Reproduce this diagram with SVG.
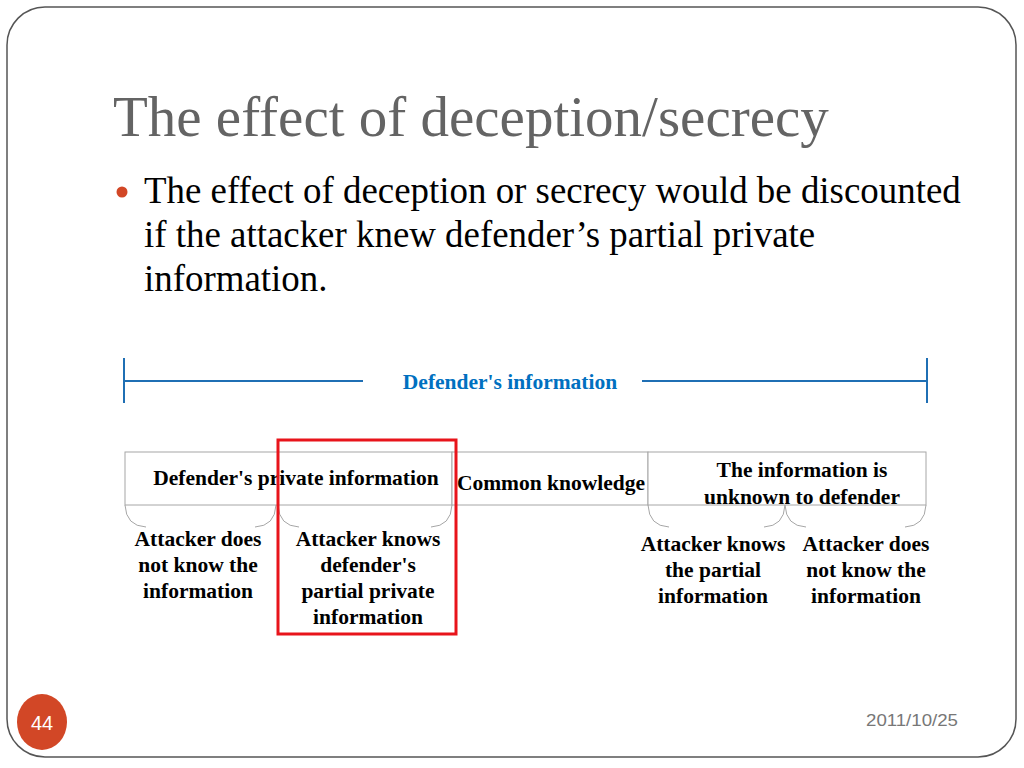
<svg xmlns="http://www.w3.org/2000/svg" width="1024" height="768" viewBox="0 0 1024 768">
<style>
.frame{fill:#fff;stroke:#555;stroke-width:1.5}
.title{font-family:"Liberation Serif",serif;font-size:57px;fill:#646464}
.body{font-family:"Liberation Serif",serif;font-size:36.9px;fill:#000}
.lbl{font-family:"Liberation Serif",serif;font-size:21.5px;font-weight:bold;fill:#000;text-anchor:middle}
.blue{fill:#0070c0}
.bl{stroke:#1f6fb4;stroke-width:2;fill:none}
.box{fill:#fff;stroke:#a6a6a6;stroke-width:1}
.brace{fill:none;stroke:#a6a6a6;stroke-width:1}
</style>
<rect width="1024" height="768" fill="#fff"/>
<rect class="frame" x="7" y="7" width="1009" height="750" rx="38" ry="38"/>
<text class="title" x="113" y="136">The effect of deception/secrecy</text>
<circle cx="122" cy="192" r="5.5" fill="#d24726"/>
<text class="body" x="144" y="203">The effect of deception or secrecy would be discounted</text>
<text class="body" x="144" y="247">if the attacker knew defender’s partial private</text>
<text class="body" x="144" y="291">information.</text>

<g id="defenders-information">
<path class="bl" d="M124,358 V403 M124,381 H363 M642,381 H927 M927,358 V403"/>
<text class="lbl blue" x="510" y="389">Defender's information</text>
</g>

<g id="connectors">
<path class="brace" d="M125,505 Q126,526 146,527 M276,505 Q275,526 255,527"/>
<path class="brace" d="M278,505 Q279,526 299,527 M452,505 Q451,526 431,527"/>
<path class="brace" d="M648,505 Q649,526 669,527 M785,505 Q784,526 764,527"/>
<path class="brace" d="M785,505 Q786,526 806,527 M926,505 Q925,526 905,527"/>
</g>

<g id="private-info">
<rect class="box" x="125" y="452" width="327" height="53"/>
<text class="lbl" x="296" y="485">Defender's private information</text>
</g>
<g id="common-knowledge">
<rect class="box" x="452" y="452" width="196" height="53"/>
<text class="lbl" x="551" y="490">Common knowledge</text>
</g>
<g id="unknown-info">
<rect class="box" x="648" y="452" width="278" height="53"/>
<text class="lbl" x="802" y="477">The information is</text>
<text class="lbl" x="802" y="504">unknown to defender</text>
</g>

<g id="attacker-not-know-1">
<text class="lbl" x="198" y="546">Attacker does</text>
<text class="lbl" x="198" y="572">not know the</text>
<text class="lbl" x="198" y="598">information</text>
</g>
<g id="attacker-knows-partial-private">
<text class="lbl" x="368" y="546">Attacker knows</text>
<text class="lbl" x="368" y="572">defender's</text>
<text class="lbl" x="368" y="598">partial private</text>
<text class="lbl" x="368" y="624">information</text>
</g>
<g id="attacker-knows-partial">
<text class="lbl" x="713" y="551">Attacker knows</text>
<text class="lbl" x="713" y="577">the partial</text>
<text class="lbl" x="713" y="603">information</text>
</g>
<g id="attacker-not-know-2">
<text class="lbl" x="866" y="551">Attacker does</text>
<text class="lbl" x="866" y="577">not know the</text>
<text class="lbl" x="866" y="603">information</text>
</g>

<g id="highlight">
<rect x="278" y="440" width="178" height="194" fill="none" stroke="#e8141b" stroke-width="3"/>
</g>

<ellipse cx="42" cy="722" rx="25" ry="28" fill="#d24726"/>
<text x="42" y="730" font-family="Liberation Sans, sans-serif" font-size="20" fill="#fff" text-anchor="middle">44</text>
<text x="866" y="726" font-family="Liberation Sans, sans-serif" font-size="16" fill="#777" textLength="92" lengthAdjust="spacingAndGlyphs">2011/10/25</text>
</svg>
